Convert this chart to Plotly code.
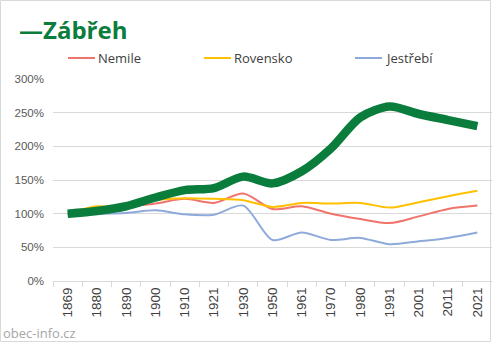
import plotly.graph_objects as go

years = ["1869", "1880", "1890", "1900", "1910", "1921", "1930", "1950",
         "1961", "1970", "1980", "1991", "2001", "2011", "2021"]
zabreh = [1.00, 1.04, 1.11, 1.24, 1.35, 1.38, 1.55, 1.45, 1.63, 1.97, 2.43, 2.59, 2.48, 2.39, 2.30]
nemile = [1.00, 1.05, 1.10, 1.15, 1.22, 1.16, 1.30, 1.07, 1.11, 1.00, 0.92, 0.86, 0.96, 1.07, 1.12]
rovensko = [1.00, 1.11, 1.09, 1.20, 1.23, 1.22, 1.20, 1.10, 1.16, 1.15, 1.16, 1.09, 1.17, 1.26, 1.34]
jestrebi = [1.00, 1.00, 1.01, 1.05, 0.99, 0.985, 1.12, 0.61, 0.72, 0.61, 0.64, 0.545, 0.59, 0.64, 0.72]

main_name = "Zábřeh"
others = [("Nemile", nemile, "#f0736c"), ("Rovensko", rovensko, "#ffc000"), ("Jestřebí", jestrebi, "#8eaadb")]
green = "#0a7d3c"

fig = go.Figure()
for name, vals, col in others:
    fig.add_trace(go.Scatter(x=years, y=vals, mode="lines", name=name,
                             line=dict(color=col, width=2, shape="spline", smoothing=0.8),
                             showlegend=False))
fig.add_trace(go.Scatter(x=years, y=zabreh, mode="lines", name=main_name,
                         line=dict(color=green, width=8.5, shape="spline", smoothing=0.8),
                         showlegend=False))

W, H = 492, 343
L, R, T, B = 53, 0, 79, 62
pw, ph = W - L - R, H - T - B

def px(x):
    return (x - L) / pw

def py(y):
    return (H - B - y) / ph

shapes = [dict(type="rect", xref="paper", yref="paper",
               x0=px(0.5), x1=px(490.5), y0=py(341.5), y1=py(0.5),
               line=dict(color="#d9d9d9", width=1), fillcolor="rgba(0,0,0,0)", layer="below")]
annotations = [dict(text="—" + main_name, xref="paper", yref="paper",
                    x=px(17), y=py(29), xanchor="left", yanchor="middle", showarrow=False,
                    font=dict(family="Open Sans", size=24, color=green, weight="bold")),
               dict(text="obec-info.cz", xref="paper", yref="paper",
                    x=px(1), y=py(333), xanchor="left", yanchor="middle", showarrow=False,
                    font=dict(family="Open Sans", size=13, color="#a6a6a6"))]
leg_x = [68, 204, 355]
for (name, vals, col), lx in zip(others, leg_x):
    shapes.append(dict(type="line", xref="paper", yref="paper",
                       x0=px(lx), x1=px(lx + 27), y0=py(58), y1=py(58),
                       line=dict(color=col, width=2)))
    annotations.append(dict(text=name, xref="paper", yref="paper",
                            x=px(lx + 28), y=py(58), xanchor="left", yanchor="middle",
                            showarrow=False,
                            font=dict(family="Open Sans", size=13, color="#404040")))

fig.update_layout(
    width=W, height=H,
    margin=dict(l=L, r=R, t=T, b=B, pad=0),
    paper_bgcolor="white", plot_bgcolor="white",
    shapes=shapes, annotations=annotations,
    xaxis=dict(type="category", range=[-0.5, len(years) - 0.5], tickangle=-90,
               showgrid=False, showline=True, linecolor="#d9d9d9", linewidth=1,
               ticks="outside", tickson="boundaries", ticklen=5, tickcolor="#d9d9d9",
               tickfont=dict(family="Liberation Sans", size=13.5, color="#404040"),
               zeroline=False, fixedrange=True),
    yaxis=dict(range=[0, 3], dtick=0.5, tickformat=".0%", showgrid=True,
               gridcolor="#d9d9d9", gridwidth=1, zeroline=False, showline=False,
               ticks="", ticklabelstandoff=8,
               tickfont=dict(family="Liberation Sans", size=11.5, color="#595959")),
)

fig.write_html("out.html")
